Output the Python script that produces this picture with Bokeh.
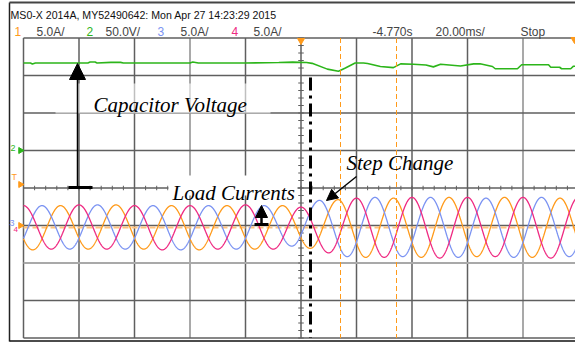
import numpy as np
from bokeh.plotting import figure
from bokeh.models import Range1d, Label, Arrow, NormalHead
from bokeh.embed import file_html
from bokeh.resources import INLINE

# ---------------- scope settings ----------------
ms_per_div = 20.0          # time base
volts_per_div = 50.0       # channel 2 (capacitor voltage)
amps_per_div = 5.0         # channels 1, 3, 4 (load currents)
half_period_ms = 10.0      # 50 Hz mains
ch2_ground_div = 1.0
current_ground_div = -1.05

# ---------------- channel 2: capacitor voltage ----------------
vc_time_ms = [-100, -97.5, -96.8, -95.7, -76.8, -76.0, -74.2, -73.5, -68.5, -65, -64,
              -40, -39, -37, -20, -8, -3, 2, 4, 9.5, 13.5, 16, 19.5, 22.5, 24, 28.6,
              33.3, 35.9, 40.5, 45, 47.7, 50.3, 57.5, 62.2, 64.5, 69, 70, 78, 79.5,
              89.2, 90, 93.2, 93.9, 97.2, 98.2, 100]
vc_volts = [116.7, 116.7, 115.4, 116.7, 116.7, 118.0, 118.0, 116.7, 117.5, 117.5, 116.7,
            116.7, 118.0, 116.7, 116.7, 117.3, 117.8, 117.3, 116.2, 108.5, 105.7, 110.0,
            116.7, 116.7, 116.0, 112.0, 110.5, 115.5, 115.0, 114.0, 111.5, 115.0, 112.7,
            115.5, 115.6, 112.0, 109.0, 109.0, 114.3, 114.3, 111.0, 111.0, 109.0, 109.0,
            112.4, 112.4]

# ---------------- load currents: successive half-cycle peaks (A) ----------------
# ch4 (pink): first peak at -100 ms, positive
ch4_first_ms, ch4_first_sign = -100.0, 1
ch4_peaks = [2.9, 2.9, 3.0, 2.9, 2.9, 3.0, 2.9, 2.9, 3.0, 2.9, 2.7,
             3.4, 3.9, 4.0, 4.0, 4.1, 4.0, 3.9, 4.0, 4.1, 4.0]
# ch3 (blue): first peak at -103.3 ms, negative
ch3_first_ms, ch3_first_sign = -103.33, -1
ch3_peaks = [2.9, 2.9, 2.9, 3.0, 2.9, 2.9, 3.0, 2.9, 2.9, 2.9, 2.5,
             3.6, 3.9, 4.0, 3.9, 4.0, 4.0, 3.9, 4.0, 4.0, 3.9, 4.0]
# ch1 (orange): first peak at -106.7 ms, positive
ch1_first_ms, ch1_first_sign = -106.67, 1
ch1_peaks = [2.9, 3.0, 2.9, 2.9, 3.0, 2.9, 2.9, 3.0, 2.9, 2.9, 2.9,
             2.8, 3.7, 4.0, 3.9, 4.0, 4.0, 3.9, 4.0, 4.0, 3.9, 4.0]

header_line = "MS0-X 2014A, MY52490642: Mon Apr 27 14:23:29 2015"
channel_ids = ["1", "2", "3", "4"]
channel_scales = ["5.0A/", "50.0V/", "5.0A/", "5.0A/"]
trigger_time = "-4.770s"
timebase_text = "20.00ms/"
run_state = "Stop"

ORANGE = "#ff9a1a"
GREEN = "#2cb51a"
BLUE = "#7b93f2"
PINK = "#ef2a82"
GRID_DARK = "#5f5f5f"
GRID_LIGHT = "#a9a9a9"

# screen layout of the graticule
W, H = 575, 343
GX0, GY0 = 23.0, 187.5          # left edge / vertical centre in pixels
PX_PER_DIV_X, PX_PER_DIV_Y = 55.5, 37.5
px_per_ms = PX_PER_DIV_X / ms_per_div


def tx(px):
    """pixel column -> time in ms"""
    return -100.0 + (px - GX0) / px_per_ms


def ty(py):
    """pixel row -> vertical position in divisions"""
    return (GY0 - py) / PX_PER_DIV_Y


p = figure(width=W, height=H, x_range=Range1d(tx(0), tx(W)), y_range=Range1d(ty(H), ty(0)),
           output_backend="svg", toolbar_location=None, min_border=0,
           x_axis_type=None, y_axis_type=None, outline_line_color=None,
           background_fill_color="white", border_fill_color="white")
p.grid.visible = False

# ---------------- graticule ----------------
vt = np.arange(-100, 101, ms_per_div)
v_col = [GRID_LIGHT if t in (-40, 80) else GRID_DARK for t in vt]
v_w = [2.0 if c == GRID_LIGHT else 1.5 for c in v_col]
p.segment(x0=vt, y0=[-4] * len(vt), x1=vt, y1=[4] * len(vt), line_color=v_col, line_width=v_w)
hd = np.arange(-4, 5, 1)
h_col = [GRID_LIGHT if d == -2 else GRID_DARK for d in hd]
h_w = [2.0 if c == GRID_LIGHT else 1.5 for c in h_col]
p.segment(x0=[-100] * len(hd), y0=hd, x1=[100] * len(hd), y1=hd, line_color=h_col, line_width=h_w)

# minor ticks on the centre crosshair
mt = np.arange(-100, 101, ms_per_div / 5)
p.segment(x0=mt, y0=-0.06, x1=mt, y1=0.06, line_color=GRID_DARK, line_width=1)
md = np.arange(-4, 4.01, 0.2)
p.segment(x0=-1.0, y0=md, x1=1.0, y1=md, line_color=GRID_DARK, line_width=1)

# frame of the screen capture
p.line(x=[tx(9), tx(9)], y=[ty(2), ty(341)], line_color="#222222", line_width=1.5)
p.line(x=[tx(9), tx(W)], y=[ty(2), ty(2)], line_color="#444444", line_width=2)
p.line(x=[tx(9), tx(W)], y=[ty(340.5), ty(340.5)], line_color="#111111", line_width=1.5)

# current channels reference level
p.line(x=[-100, 100], y=[current_ground_div] * 2, line_color="#ffc27f",
       line_width=2, line_dash="6 3")

# ---------------- traces ----------------
vc_div = ch2_ground_div + np.array(vc_volts) / volts_per_div
p.line(x=vc_time_ms, y=vc_div, line_color=GREEN, line_width=1.6)


def current_trace(first_ms, first_sign, peaks):
    peaks = np.asarray(peaks, dtype=float)
    n = len(peaks)
    peak_t = first_ms + half_period_ms * np.arange(n)
    vals = first_sign * (-1.0) ** np.arange(n) * peaks
    t = np.linspace(-100, 100, 2001)
    k = np.clip(np.searchsorted(peak_t, t, side="right") - 1, 0, n - 2)
    ya, yb = vals[k], vals[k + 1]
    ph = np.pi * (t - peak_t[k]) / half_period_ms
    amps = (ya + yb) / 2 + (ya - yb) / 2 * np.cos(ph)
    return t, current_ground_div + amps / amps_per_div


for first, sign, pk, col in [(ch1_first_ms, ch1_first_sign, ch1_peaks, ORANGE),
                             (ch3_first_ms, ch3_first_sign, ch3_peaks, BLUE),
                             (ch4_first_ms, ch4_first_sign, ch4_peaks, PINK)]:
    t, y = current_trace(first, sign, pk)
    p.line(x=t, y=y, line_color=col, line_width=1.3)

# cursors
for cx in (340, 396):
    p.line(x=[tx(cx)] * 2, y=[4, -4], line_color=ORANGE, line_width=1, line_dash="5 3")

# step-change instant
p.line(x=[tx(310)] * 2, y=[ty(77), -4], line_color="black", line_width=3, line_dash="13 5 3 5")

# trigger / channel markers
p.scatter(x=[0], y=[ty(40)], marker="inverted_triangle", size=7, fill_color=ORANGE, line_color=ORANGE)
p.scatter(x=[tx(574)], y=[ty(39)], marker="inverted_triangle", size=7, fill_color=ORANGE, line_color=ORANGE)
p.scatter(x=[tx(20)], y=[ty(150)], marker="triangle", angle=-np.pi / 2, size=6, fill_color=GREEN, line_color=GREEN)
p.scatter(x=[tx(20)], y=[ty(184)], marker="triangle", angle=-np.pi / 2, size=6, fill_color=ORANGE, line_color=ORANGE)
p.scatter(x=[tx(20)], y=[ty(225)], marker="triangle", angle=-np.pi / 2, size=6, fill_color=ORANGE, line_color=ORANGE)


def lab(px, py, text, color="black", size="11px", font="Liberation Sans", style="normal",
        baseline="middle", align="left"):
    p.add_layout(Label(x=tx(px), y=ty(py), text=text, text_color=color, text_font_size=size,
                       text_font=font, text_font_style=style, text_baseline=baseline,
                       text_align=align))


lab(11, 176, "T", ORANGE, size="9px")
lab(10, 147, "2", GREEN, size="9px")
lab(9, 222, "3", BLUE, size="9px")
lab(13, 229, "4", PINK, size="8px")

# ---------------- header ----------------
lab(10, 14, header_line, "#111111", size="10.6px")
ch_colors = [ORANGE, GREEN, BLUE, PINK]
ch_id_x = [14, 86, 157, 231]
ch_scale_x = [36, 105, 180, 253]
for cid, sc, col, ix, sx in zip(channel_ids, channel_scales, ch_colors, ch_id_x, ch_scale_x):
    lab(ix, 31, cid, col, size="12px")
    lab(sx, 31, sc, "#444444", size="12px")
lab(372, 31, trigger_time, "#444444", size="12px")
lab(435, 31, timebase_text, "#444444", size="12px")
lab(520, 31, run_state, "#444444", size="12px")

# ---------------- annotations ----------------
p.quad(left=tx(55), right=tx(270), top=ty(83), bottom=ty(113), fill_color="white",
       fill_alpha=0.6, line_color=None)
p.quad(left=tx(168), right=tx(297), top=ty(175), bottom=ty(195), fill_color="white",
       line_color=None)

serif = "Liberation Serif"
lab(93, 104, "Capacitor Voltage", "black", size="21px", font=serif, style="italic", baseline="alphabetic")
lab(172, 192, "Load Currents", "black", size="21px", font=serif, style="italic", baseline="alphabetic")
lab(346, 162, "Step Change", "black", size="21px", font=serif, style="italic", baseline="alphabetic")

# capacitor-voltage arrow
p.line(x=[tx(68), tx(92)], y=[ty(187)] * 2, line_color="black", line_width=3)
p.add_layout(Arrow(end=NormalHead(size=16, fill_color="black", line_color="black"),
                   x_start=tx(77), y_start=ty(187), x_end=tx(77), y_end=ty(63),
                   line_color="black", line_width=1.5))
# load-current arrow
p.line(x=[tx(254), tx(268)], y=[ty(224)] * 2, line_color="black", line_width=3)
p.add_layout(Arrow(end=NormalHead(size=12, fill_color="black", line_color="black"),
                   x_start=tx(261), y_start=ty(224), x_end=tx(261), y_end=ty(205),
                   line_color="black", line_width=2.5))
# step-change arrow
p.add_layout(Arrow(end=NormalHead(size=11, fill_color="black", line_color="black"),
                   x_start=tx(356), y_start=ty(176), x_end=tx(326), y_end=ty(200),
                   line_color="black", line_width=1.5))

open("out.html", "w").write(file_html(p, INLINE))
